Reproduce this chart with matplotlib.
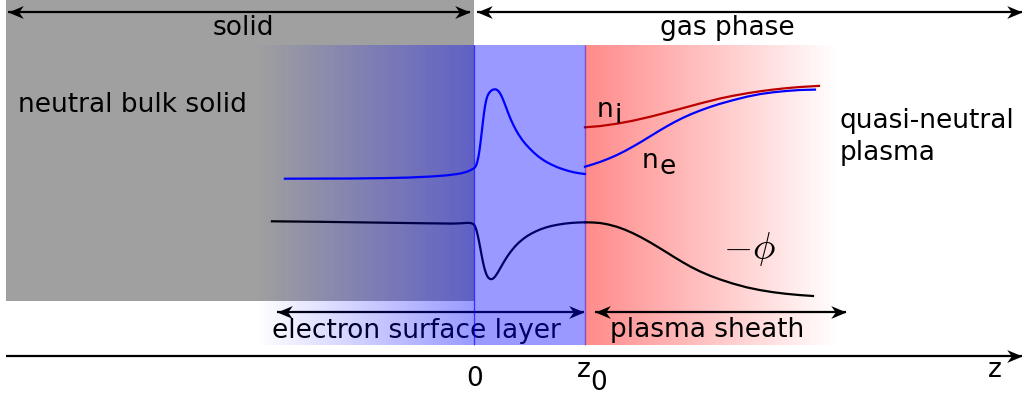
import numpy as np
import matplotlib
matplotlib.use("Agg")
import matplotlib.pyplot as plt
from matplotlib.path import Path
from matplotlib.markers import MarkerStyle

plt.rcParams['font.family'] = ['DejaVu Sans']

# x: position along z in units of z0 (surface at 0, sheath edge at z0 = 1)
# y: vertical position in the sketch, 0 = top edge, grows downward
Z_SURF = 0.0
Z0 = 1.0

# electron density, solid side + electron surface layer
ne_layer_z = [-1.703, -1.4, -1.1, -0.8, -0.6, -0.4, -0.25, -0.15, -0.10, -0.06, -0.03,
              0.00, 0.01, 0.02, 0.03, 0.04, 0.05, 0.06, 0.07, 0.08, 0.09, 0.10, 0.11, 0.12,
              0.13, 0.14, 0.15, 0.16, 0.17, 0.18, 0.19, 0.20, 0.21, 0.22, 0.23, 0.24, 0.25,
              0.26, 0.27, 0.28, 0.29, 0.30, 0.31, 0.32, 0.33, 0.34, 0.36, 0.38, 0.40, 0.43,
              0.46, 0.50, 0.54, 0.58, 0.62, 0.66, 0.70, 0.75, 0.80, 0.85, 0.90, 0.95, 1.00]
ne_layer_y = [178.7, 178.6, 178.5, 178.1, 177.6, 176.6, 175.4, 174.0, 172.9, 171.6, 170.1,
              168.3, 167.2, 165.2, 161.8, 156.8, 150.0, 141.5, 132.0, 122.3, 113.3, 105.8, 100.2, 96.4,
              94.0, 92.4, 91.2, 90.3, 89.7, 89.4, 89.3, 89.5, 90.1, 91.1, 92.5, 94.3, 96.5,
              99.0, 101.8, 104.7, 107.6, 110.6, 113.5, 116.3, 119.0, 121.5, 126.2, 130.4, 134.2, 139.2,
              143.5, 148.3, 152.7, 156.5, 159.7, 162.4, 164.7, 167.2, 169.2, 170.9, 172.3, 173.3, 174.0]

# electron density in the plasma sheath
ne_sheath_z = [1.0, 1.072, 1.144, 1.216, 1.288, 1.360, 1.432, 1.505, 1.586, 1.658, 1.739, 1.811,
               1.883, 1.955, 2.036, 2.126, 2.216, 2.333, 2.459, 2.577, 2.694, 2.811, 2.937, 3.072]
ne_sheath_y = [166.7, 164.3, 161.6, 158.5, 155.0, 151.0, 146.6, 141.9, 136.4, 131.5, 126.2, 121.8,
               117.8, 114.2, 110.6, 107.0, 103.8, 100.2, 96.7, 94.1, 92.3, 91.0, 90.0, 89.6]

# ion density in the plasma sheath
ni_z = [1.0, 1.135, 1.288, 1.432, 1.586, 1.739, 1.883, 2.036, 2.216, 2.333, 2.459, 2.577,
        2.694, 2.811, 2.937, 3.108]
ni_y = [127.3, 126.1, 123.7, 120.7, 116.8, 112.4, 108.1, 103.5, 98.5, 95.8, 93.3, 91.3,
        89.6, 88.2, 87.0, 85.9]

# -phi, solid side + surface layer
phi_layer_z = [-1.820, -1.387, -0.937, -0.486, -0.20, -0.12, -0.07, -0.04, -0.02, 0.00,
               0.01, 0.02, 0.03, 0.04, 0.05, 0.06, 0.07, 0.08, 0.09, 0.10, 0.11, 0.12, 0.13,
               0.14, 0.15, 0.16, 0.17, 0.18, 0.19, 0.20, 0.22, 0.24, 0.26, 0.28, 0.30, 0.32,
               0.34, 0.37, 0.40, 0.44, 0.48, 0.52, 0.56, 0.60, 0.65, 0.70, 0.76, 0.82, 0.88,
               0.94, 1.00]
phi_layer_y = [221.3, 221.8, 222.5, 223.2, 223.6, 223.3, 222.9, 222.9, 223.3, 224.5,
               226.5, 229.5, 233.5, 238.5, 244.0, 250.0, 256.0, 261.5, 266.5, 270.5, 273.8, 276.2, 277.8,
               278.7, 279.1, 279.1, 278.7, 277.8, 276.5, 275.0, 271.5, 267.6, 263.7, 260.0, 256.5, 253.3,
               250.4, 246.4, 243.0, 239.2, 236.0, 233.4, 231.2, 229.3, 227.4, 225.9, 224.6, 223.6, 222.9,
               222.5, 222.3]

# -phi in the plasma sheath
phi_sheath_z = [1.0, 1.072, 1.135, 1.207, 1.288, 1.360, 1.432, 1.505, 1.586, 1.658, 1.739, 1.811,
                1.883, 1.955, 2.036, 2.126, 2.216, 2.333, 2.459, 2.577, 2.694, 2.811, 2.937, 3.054]
phi_sheath_y = [222.3, 222.5, 223.0, 224.4, 226.8, 229.7, 233.2, 237.3, 242.3, 247.1, 252.6, 257.6,
                262.4, 266.9, 271.4, 275.7, 279.4, 283.6, 287.4, 290.1, 292.2, 293.8, 295.1, 296.0]

# regions (z extents)
solid_left = -4.216
layer_fade_start = -1.973
sheath_fade_end = 3.297
axis_right = 4.937

fig = plt.figure(figsize=(10.27, 3.96), dpi=100)
ax = fig.add_axes([0, 0, 1, 1])

# concave arrow heads, tip at the origin
_head = [(0, 0), (-1, 0.42), (-0.7, 0), (-1, -0.42), (0, 0)]
_codes = [Path.MOVETO, Path.LINETO, Path.LINETO, Path.LINETO, Path.CLOSEPOLY]
HEAD_R = MarkerStyle(Path(_head, _codes))
HEAD_L = MarkerStyle(Path([(-x, y) for x, y in _head], _codes))


def hgrad(x0, x1, y0, y1, rgb, a0, a1, z):
    img = np.zeros((1, 256, 4))
    img[..., :3] = rgb
    img[..., 3] = np.linspace(a0, a1, 256)
    ax.imshow(img, extent=(x0, x1, y1, y0), aspect='auto', zorder=z,
              interpolation='bilinear')


def span_arrow(x0, x1, y, both=True):
    ax.plot([x0, x1], [y, y], color='black', lw=1.6, solid_capstyle='butt', zorder=3)
    ax.plot([x1], [y], marker=HEAD_R, ms=22, color='black', mew=0, zorder=3)
    if both:
        ax.plot([x0], [y], marker=HEAD_L, ms=22, color='black', mew=0, zorder=3)


# bulk solid
ax.add_patch(plt.Rectangle((solid_left, 0), Z_SURF - solid_left, 301,
                           facecolor='#a0a0a0', edgecolor='none', zorder=1))
# plasma sheath (red fading into plasma)
hgrad(Z0, sheath_fade_end, 45, 345, (1, 0, 0), 0.46, 0.0, 2)

# profiles
ax.plot(ne_layer_z, ne_layer_y, color='#0000ff', lw=1.6, zorder=3)
ax.plot(ne_sheath_z, ne_sheath_y, color='#0000ff', lw=1.6, zorder=3)
ax.plot(ni_z, ni_y, color='#bb0000', lw=1.6, zorder=3)
ax.plot(phi_layer_z, phi_layer_y, color='black', lw=1.6, zorder=3)
ax.plot(phi_sheath_z, phi_sheath_y, color='black', lw=1.6, zorder=3)

fs = 19
ax.text(-2.081, 35, 'solid', fontsize=fs, ha='center', va='baseline')
ax.text(2.279, 35, 'gas phase', fontsize=fs, ha='center', va='baseline')
ax.text(-4.108, 112, 'neutral bulk solid', fontsize=fs, ha='left', va='baseline')
ax.text(3.297, 128, 'quasi-neutral', fontsize=fs, ha='left', va='baseline')
ax.text(3.297, 160, 'plasma', fontsize=fs, ha='left', va='baseline')
ax.text(-1.820, 338, 'electron surface layer', fontsize=fs, ha='left', va='baseline', zorder=3)
ax.text(1.225, 337, 'plasma sheath', fontsize=fs, ha='left', va='baseline', zorder=3)

# n_i, n_e with full-size lowered subscripts
ax.text(1.108, 117, 'n', fontsize=fs, ha='left', va='baseline', zorder=3)
ax.text(1.262, 123, 'i', fontsize=fs, ha='left', va='baseline', zorder=3)
ax.text(1.514, 168, 'n', fontsize=fs, ha='left', va='baseline', zorder=3)
ax.text(1.668, 174, 'e', fontsize=fs, ha='left', va='baseline', zorder=3)
ax.text(2.243, 249, r'$-\phi$', fontsize=27, ha='left', va='center', math_fontfamily='cm',
        zorder=3)

# arrows
span_arrow(-4.198, -0.036, 12)
span_arrow(0.027, axis_right, 12)
span_arrow(-1.778, 0.991, 312)
span_arrow(1.090, 3.351, 312)
span_arrow(solid_left, axis_right, 356, both=False)

ax.text(Z_SURF + 0.009, 386, '0', fontsize=fs, ha='center', va='baseline')
ax.text(Z0 - 0.072, 377, 'z', fontsize=fs, ha='left', va='baseline')
ax.text(Z0 + 0.050, 390, '0', fontsize=fs, ha='left', va='baseline')
ax.text(4.694, 377, 'z', fontsize=fs, ha='center', va='baseline')

# electron surface layer: blue overlay fading into the solid
hgrad(layer_fade_start, Z_SURF, 45, 345, (0, 0, 1), 0.0, 0.4, 4)
ax.add_patch(plt.Rectangle((Z_SURF, 45), Z0 - Z_SURF, 300,
                           facecolor=(0, 0, 1, 0.4), edgecolor='none', zorder=4))
ax.vlines([Z_SURF, Z0], 45, 345, colors=[(0, 0, 1, 0.45)], lw=1.0, zorder=4)

ax.set_xlim(-4.270, 4.982)
ax.set_ylim(396, 0)
ax.axis('off')

fig.savefig('out.png', dpi=100)
